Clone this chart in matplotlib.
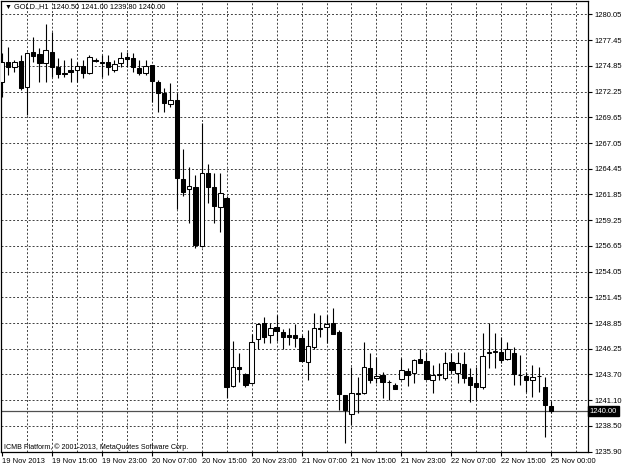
import numpy as np
import matplotlib.pyplot as plt

plt.rcParams['font.family'] = ['Liberation Sans', 'DejaVu Sans']

# hourly GOLD bars, 19 Nov 2013 07:00 .. 25 Nov 2013 00:00
opens = [1273.23, 1275.25, 1274.75, 1275.35, 1272.73, 1276.26, 1276.06, 1275.15, 1276.26, 1274.75,
         1274.14, 1274.44, 1274.44, 1274.85, 1274.14, 1275.45, 1275.25, 1275.25, 1274.44, 1275.15,
         1275.76, 1275.66, 1274.65, 1274.14, 1274.95, 1273.23, 1272.12, 1271.01, 1271.41, 1263.43,
         1262.42, 1262.63, 1256.67, 1264.04, 1262.63, 1260.61, 1261.52, 1242.53, 1244.44, 1243.74,
         1242.83, 1247.27, 1248.89, 1247.68, 1248.48, 1247.98, 1247.68, 1247.68, 1247.37, 1244.95,
         1246.46, 1248.38, 1248.48, 1248.89, 1247.98, 1241.62, 1239.70, 1241.72, 1241.82, 1244.34,
         1243.34, 1243.64, 1242.93, 1242.63, 1243.23, 1244.04, 1243.84, 1245.25, 1245.05, 1243.13,
         1243.64, 1243.34, 1244.95, 1243.84, 1244.75, 1243.44, 1242.83, 1242.43, 1245.86, 1245.96,
         1245.96, 1245.25, 1245.86, 1243.64, 1243.54, 1243.13, 1243.54, 1242.43, 1240.50]
highs = [1276.16, 1276.77, 1275.45, 1275.96, 1276.26, 1277.78, 1276.67, 1279.09, 1278.28, 1275.66,
         1275.45, 1275.66, 1275.25, 1275.45, 1275.96, 1275.66, 1275.96, 1275.96, 1275.45, 1276.26,
         1276.26, 1276.16, 1275.45, 1275.45, 1274.95, 1273.43, 1272.63, 1273.13, 1272.12, 1266.46,
         1264.65, 1263.84, 1269.09, 1264.95, 1264.04, 1264.04, 1261.72, 1247.07, 1245.86, 1243.84,
         1247.78, 1248.89, 1249.49, 1248.89, 1249.70, 1248.28, 1248.38, 1248.79, 1247.68, 1248.18,
         1249.90, 1249.70, 1249.70, 1250.40, 1248.18, 1241.62, 1244.44, 1243.44, 1246.97, 1245.86,
         1245.46, 1243.94, 1243.13, 1242.83, 1245.35, 1244.34, 1245.25, 1246.26, 1245.96, 1244.65,
         1244.85, 1245.96, 1245.86, 1245.96, 1245.96, 1244.34, 1244.44, 1247.88, 1248.89, 1247.88,
         1247.47, 1246.97, 1246.46, 1245.66, 1243.94, 1244.65, 1244.44, 1243.44, 1241.00]
lows = [1271.72, 1273.94, 1274.24, 1272.42, 1269.90, 1275.25, 1273.23, 1273.23, 1273.74, 1273.64,
        1273.74, 1273.23, 1273.23, 1273.64, 1274.04, 1275.25, 1273.74, 1273.94, 1274.24, 1274.75,
        1274.75, 1274.24, 1273.94, 1273.94, 1271.21, 1270.20, 1270.20, 1270.71, 1260.40, 1261.72,
        1258.99, 1256.47, 1256.57, 1261.01, 1258.99, 1258.08, 1241.32, 1242.43, 1242.93, 1242.43,
        1242.73, 1246.26, 1246.87, 1246.87, 1247.07, 1246.26, 1246.67, 1246.46, 1245.05, 1243.13,
        1246.26, 1247.47, 1246.87, 1247.78, 1240.10, 1236.76, 1238.58, 1239.80, 1241.72, 1242.83,
        1242.83, 1241.32, 1241.11, 1242.22, 1243.13, 1242.53, 1242.83, 1244.85, 1243.13, 1241.82,
        1243.13, 1243.13, 1243.84, 1242.83, 1242.83, 1240.91, 1241.11, 1242.22, 1244.34, 1244.34,
        1244.85, 1245.15, 1242.63, 1242.63, 1241.92, 1241.42, 1241.92, 1237.37, 1239.80]
closes = [1275.25, 1274.75, 1275.25, 1272.63, 1276.16, 1275.86, 1275.15, 1276.46, 1274.75, 1274.04,
          1274.04, 1274.24, 1274.85, 1274.14, 1275.76, 1275.35, 1275.15, 1274.75, 1275.05, 1275.66,
          1275.56, 1274.75, 1274.14, 1274.85, 1273.33, 1272.12, 1271.11, 1271.41, 1263.54, 1262.12,
          1262.73, 1256.77, 1264.04, 1262.63, 1260.71, 1262.02, 1242.43, 1244.44, 1244.24, 1242.63,
          1246.97, 1248.79, 1247.47, 1248.38, 1248.08, 1247.47, 1247.47, 1247.37, 1245.05, 1246.56,
          1248.38, 1248.28, 1248.79, 1247.78, 1241.72, 1240.10, 1241.82, 1241.82, 1244.44, 1243.13,
          1243.54, 1242.93, 1242.93, 1242.22, 1244.14, 1243.64, 1245.15, 1244.85, 1243.23, 1243.64,
          1243.74, 1244.85, 1244.14, 1244.85, 1243.34, 1242.63, 1242.43, 1245.56, 1245.96, 1246.06,
          1245.15, 1246.26, 1243.74, 1243.64, 1243.13, 1243.44, 1243.54, 1240.61, 1240.00]

x_labels = ["19 Nov 2013", "19 Nov 15:00", "19 Nov 23:00", "20 Nov 07:00", "20 Nov 15:00",
            "20 Nov 23:00", "21 Nov 07:00", "21 Nov 15:00", "21 Nov 23:00", "22 Nov 07:00",
            "22 Nov 15:00", "25 Nov 00:00"]
y_labels = ["1235.90", "1238.50", "1241.10", "1243.70", "1246.25", "1248.85", "1251.45",
            "1254.05", "1256.65", "1259.25", "1261.85", "1264.45", "1267.05", "1269.65",
            "1272.25", "1274.85", "1277.45", "1280.05"]
last_price = 1240.00
header = "GOLD.,H1  1240.50 1241.00 1239.80 1240.00"
copyright_text = "ICMB Platform, \u00a9 2001-2013, MetaQuotes Software Corp."

o = np.array(opens)
h = np.array(highs)
l = np.array(lows)
c = np.array(closes)
x = np.arange(len(o))

fig = plt.figure(figsize=(6.24, 4.68), dpi=100)
ax = fig.add_axes([1 / 624, 16 / 468, 587 / 624, 451 / 468])

ygrid = np.linspace(float(y_labels[0]), float(y_labels[-1]), len(y_labels))
grid_kw = dict(color='#404040', lw=0.7, ls=(0, (2, 2)), zorder=0)
for v in ygrid:
    ax.axhline(v, **grid_kw)
for k in range(4, 94, 4):
    ax.axvline(k, **grid_kw)

ax.axhline(last_price, color='#505050', lw=0.9, zorder=1)

ax.vlines(x, l, h, color='black', lw=0.8, zorder=2)
bottoms = np.minimum(o, c)
heights = np.maximum(np.abs(c - o), 0.02)
faces = ['white' if cc >= oo else 'black' for oo, cc in zip(o, c)]
ax.bar(x, heights, bottom=bottoms, width=0.7, color=faces, edgecolor='black', lw=0.75, zorder=3)

ax.set_xlim(-0.16, 93.9)
ax.set_ylim(1235.86, 1281.41)

ax.set_yticks(ygrid)
ax.set_yticklabels(y_labels)
ax.yaxis.tick_right()
ax.tick_params(axis='y', length=3, width=0.8, pad=1.5, labelsize=5.5)

ax.set_xticks(np.arange(0, len(o), 8))
ax.set_xticklabels(x_labels, ha='left')
ax.tick_params(axis='x', length=3, width=0.8, pad=1.5, labelsize=5.4)

for s in ax.spines.values():
    s.set_linewidth(0.9)

ax.text(1.003, last_price, f"{last_price:.2f}", transform=ax.get_yaxis_transform(),
        ha='left', va='center', fontsize=5.5, color='white', zorder=5,
        bbox=dict(facecolor='black', edgecolor='black', pad=1.2))

fig.text(5 / 624, 1 - 7 / 468, "\u25bc", fontsize=5, va='center', ha='left')
fig.text(14 / 624, 1 - 7 / 468, header, fontsize=5.3, va='center', ha='left')
fig.text(4 / 624, 1 - 447 / 468, copyright_text, fontsize=5.15, va='center', ha='left')

fig.savefig('out.png', dpi=100)
